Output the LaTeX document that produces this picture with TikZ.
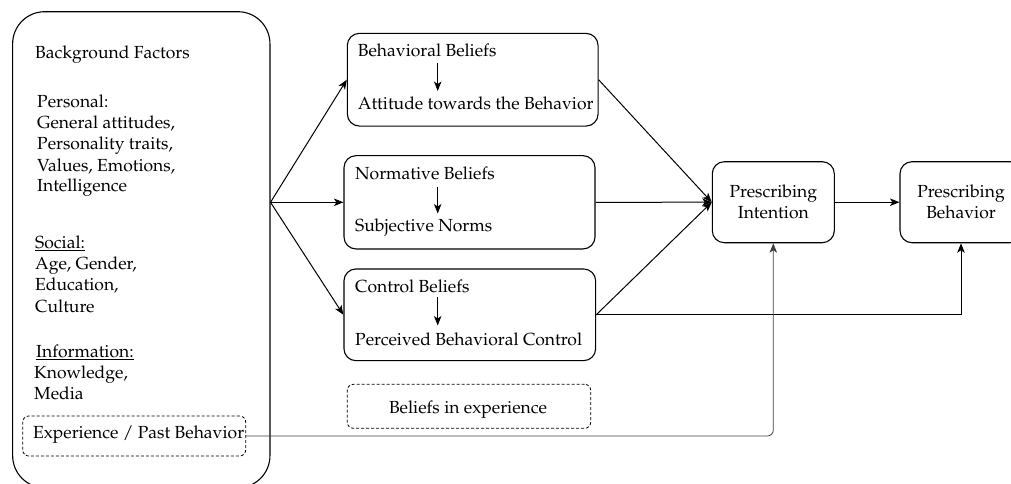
\documentclass[tikz,border=0pt]{standalone}
\usepackage[T1]{fontenc}
\renewcommand{\rmdefault}{ppl}
\usetikzlibrary{arrows.meta}
\begin{document}
\begin{tikzpicture}[x=1pt,y=-1pt,
  every node/.style={font=\fontsize{17.5}{21}\selectfont, inner sep=0pt},
  rbox/.style={draw, line width=1.1pt, rounded corners=12pt},
  dbox/.style={draw, line width=0.8pt, dashed, dash pattern=on 3pt off 2pt, rounded corners=6pt},
  arr/.style={line width=1pt, -{Stealth[length=9.5pt,width=7.5pt,inset=2.5pt]}},
  thin/.style={line width=0.8pt, draw=black!75},
  txt/.style={anchor=base west, align=left}
]
\useasboundingbox (0,0) rectangle (1011,483);

% big left box
\node[draw, line width=1.1pt, rounded corners=32pt, minimum width=257.3pt, minimum height=476pt] (big) at (141.3,249.7) {};

\node[txt] (bf) at (35,58) {Background Factors};
\node[txt] (pers) at (37,107) {Personal:};
\node[txt] (p1) at (37,128) {General attitudes,};
\node[txt] (p2) at (37,149) {Personality traits,};
\node[txt] (p3) at (37,171) {Values, Emotions,};
\node[txt] (p4) at (37,191) {Intelligence};
\node[txt] (soc) at (35,248) {\underline{Social:}};
\node[txt] (s1) at (35,269) {Age, Gender,};
\node[txt] (s2) at (35,290) {Education,};
\node[txt] (s3) at (35,312) {Culture};
\node[txt] (inf) at (36,357) {\underline{Information:}};
\node[txt] (i1) at (34,378) {Knowledge,};
\node[txt] (i2) at (34,399) {Media};

\node[dbox, minimum width=223pt, minimum height=40pt] (exp) at (134.2,436) {};
\node[txt] (expt) at (33,438) {Experience / Past Behavior};

% belief boxes
\node[rbox, minimum width=250.7pt, minimum height=92.7pt] (beh) at (472.7,79.7) {};
\node[txt] (beh1) at (357.7,56.7) {Behavioral Beliefs};
\node[txt] (beh2) at (357.7,109) {Attitude towards the Behavior};
\coordinate (ba1) at (437.7,63);
\coordinate (ba2) at (437.7,91);
\draw[arr] (ba1) -- (ba2);

\node[rbox, minimum width=251pt, minimum height=93.3pt] (nor) at (469.5,202.3) {};
\node[txt] (nor1) at (355,179) {Normative Beliefs};
\node[txt] (nor2) at (355,231.7) {Subjective Norms};
\coordinate (na1) at (437.7,186.7);
\coordinate (na2) at (437.7,213.5);
\draw[arr] (na1) -- (na2);

\node[rbox, minimum width=251.7pt, minimum height=91.7pt] (con) at (469.8,314.8) {};
\node[txt] (con1) at (355,292.7) {Control Beliefs};
\node[txt] (con2) at (355,345) {Perceived Behavioral Control};
\coordinate (ca1) at (437.7,297);
\coordinate (ca2) at (437.7,325.5);
\draw[arr] (ca1) -- (ca2);

\node[dbox, minimum width=243.4pt, minimum height=44pt] (bex) at (469,406.3) {};
\node[anchor=base] (bext) at (468,413) {Beliefs in experience};

% outcome boxes
\node[rbox, minimum width=122pt, minimum height=81pt, align=center] (int) at (773.3,202.2) {Prescribing\\Intention};
\node[rbox, minimum width=122pt, minimum height=81pt, align=center] (pb) at (961,202.2) {Prescribing\\Behavior};

% connectors
\coordinate (fan) at (big.east |- nor.west);
\draw[arr] (fan) -- (beh.west);
\draw[arr] (fan) -- (nor.west);
\draw[arr] (fan) -- (con.west);

\draw[arr] (beh.east) -- (int.west);
\draw[arr] (nor.east) -- (int.west);
\draw[arr] (con.east) -- (int.west);
\draw[arr] (con.east) -| (pb.south);
\draw[arr] (int.east) -- (pb.west);
\draw[thin, rounded corners=6pt, -{Stealth[length=9.5pt,width=7.5pt,inset=2.5pt]}] (exp.east) -| (int.south);
\end{tikzpicture}
\end{document}
